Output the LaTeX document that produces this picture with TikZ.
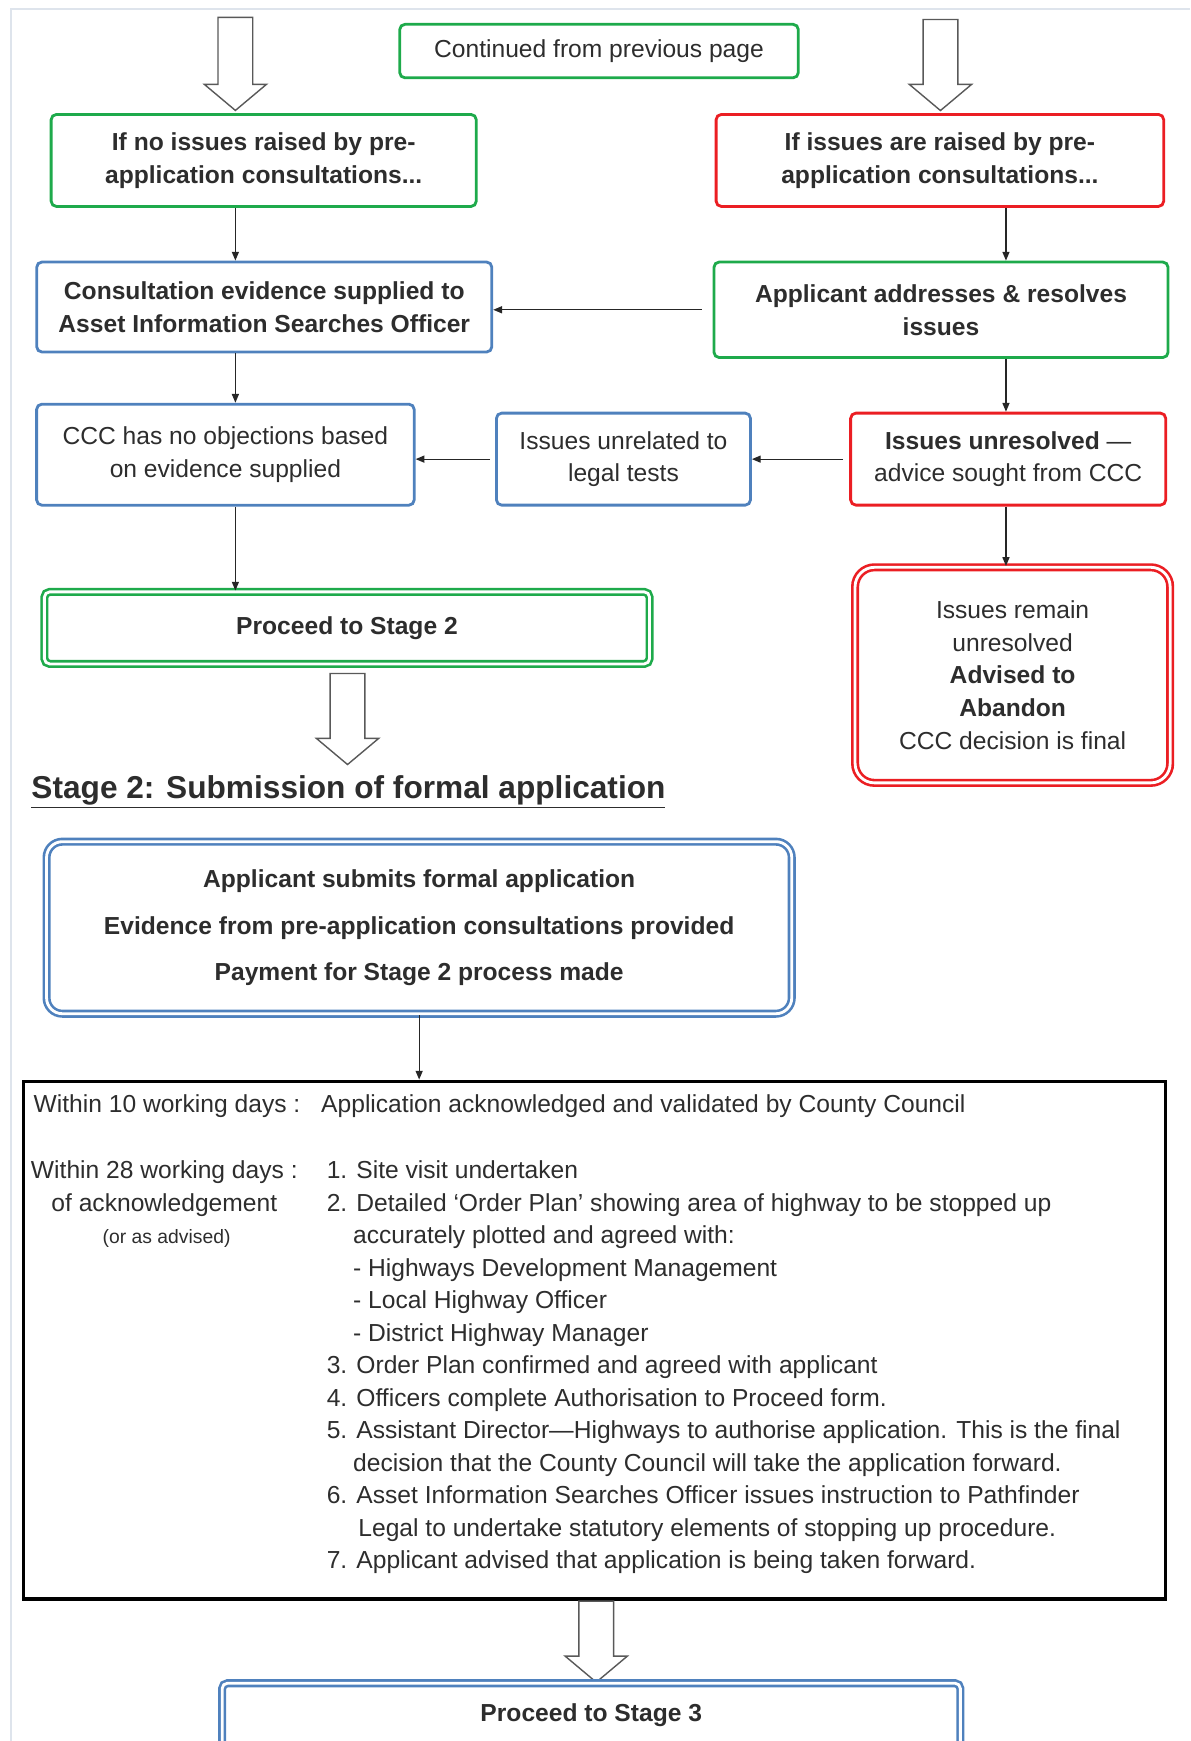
\documentclass[tikz,border=0pt]{standalone}
\usepackage{fontspec}
\setmainfont{Liberation Sans}
\usepackage{xcolor}
\usepackage{tikz}
\usetikzlibrary{arrows.meta,shapes.arrows}
\definecolor{nicegreen}{RGB}{30,170,75}
\definecolor{niceblue}{RGB}{79,129,189}
\definecolor{nicered}{RGB}{235,30,35}
\definecolor{txtgray}{RGB}{45,45,45}
\definecolor{framegray}{RGB}{222,228,236}

\tikzset{
  box/.style = {draw, line width=1.6pt, rounded corners=3pt, align=center, inner sep=0pt,
                text=txtgray, font=\fontsize{14}{18.7}\selectfont},
  gbox/.style = {box, draw=nicegreen},
  bbox/.style = {box, draw=niceblue},
  rbox/.style = {box, draw=nicered},
  dblbox/.style = {box, line width=1.5pt, double=white, double distance=1.6pt},
  arr/.style = {-{Triangle[length=5pt,width=4pt]}, line width=0.7pt, black!85},
  hollow/.style = {single arrow, draw=gray!70!black, fill=white, line width=0.8pt, rotate=-90,
                   inner xsep=0pt, inner ysep=0.333cm, single arrow head extend=0.275cm,
                   single arrow tip angle=100},
  plain/.style = {inner sep=0pt, text=txtgray, font=\fontsize{14}{18.5}\selectfont}
}

\begin{document}
\begin{tikzpicture}[x=0.0222cm, y=-0.0222cm]
			\useasboundingbox (0,0) rectangle (1072,1568);
			\draw[framegray, line width=1pt] (1072,8) -- (10,8) -- (10,1568);
			\coordinate (lcol) at (212,0);
			\coordinate (rcol) at (906,0);
			% top row
			\node (fromprev) at (539.5,46) [gbox, minimum width=7.97cm, minimum height=1.07cm] {Continued from previous page};
			\node (hollowl) at (212,51) [hollow, minimum height=1.86cm] {};
			\node (hollowr) at (847,52) [hollow, minimum height=1.82cm] {};
			\node (noissues) at (237.5,144.5) [gbox, minimum width=8.50cm, minimum height=1.84cm] {\textbf{If no issues raised by pre-}\\\textbf{application consultations...}};
			\node (issues) at (846.5,144.5) [rbox, minimum width=8.95cm, minimum height=1.84cm] {\textbf{If issues are raised by pre-}\\\textbf{application consultations...}};
			\node (evidence) at (238,276.5) [bbox, minimum width=9.10cm, minimum height=1.80cm] {\textbf{Consultation evidence supplied to}\\\textbf{Asset Information Searches Officer}};
			\node (resolves) at (847.5,279) [gbox, minimum width=9.08cm, minimum height=1.91cm] {\textbf{Applicant addresses \& resolves}\\\textbf{issues}};
			\node (noobj) at (203,409.5) [bbox, minimum width=7.55cm, minimum height=2.02cm] {CCC has no objections based\\on evidence supplied};
			\node (unrelated) at (561.5,413.5) [bbox, minimum width=5.08cm, minimum height=1.84cm] {Issues unrelated to\\legal tests};
			\node (unresolved) at (908,413.5) [rbox, minimum width=6.30cm, minimum height=1.84cm] {\textbf{Issues unresolved} —\\advice sought from CCC};
			\node (stagetwo) at (312.5,565.5) [dblbox, draw=nicegreen, minimum width=12.10cm, minimum height=1.44cm] {\textbf{Proceed to Stage 2}};
			\node (abandon) at (912,608) [dblbox, draw=nicered, rounded corners=11pt, minimum width=6.30cm, minimum height=4.31cm] {Issues remain\\unresolved\\\textbf{Advised to}\\\textbf{Abandon}\\CCC decision is final};
			\node (hollowst) at (313,641) [hollow, minimum height=1.82cm] {};
			\node (stagehead) at (28,713) [anchor=west, inner sep=0pt, text=txtgray, font=\bfseries\fontsize{18}{22}\selectfont] {\underline{Stage 2: Submission of formal application}};
			% stage 2
			\node (submit) at (377.5,835.5) [dblbox, draw=niceblue, rounded corners=9pt, minimum width=14.90cm, minimum height=3.44cm] {\textbf{Applicant submits formal application}\\[7.5pt]\textbf{Evidence from pre-application consultations provided}\\[7.5pt]\textbf{Payment for Stage 2 process made}};
			\node (timeline) at (535.5,1207) [draw, line width=2pt, minimum width=22.84cm, minimum height=10.35cm] {};
			\node (tenday) at (30,1002) [plain, anchor=base west] {Within 10 working days :};
			\node (acknow) at (289,1002) [plain, anchor=base west] {Application acknowledged and validated by County Council};
			\node (twentyeight) at (148,1045) [plain, anchor=north, align=center] {Within 28 working days :\\of acknowledgement};
			\node (advised) at (150,1120) [plain, anchor=base, font=\fontsize{11}{13}\selectfont] {(or as advised)};
			\node (steps) at (294,1045) [plain, anchor=north west, align=left] {1. Site visit undertaken\\
				2. Detailed `Order Plan' showing area of highway to be stopped up\\
				\hspace*{15pt}accurately plotted and agreed with:\\
				\hspace*{15pt}- Highways Development Management\\
				\hspace*{15pt}- Local Highway Officer\\
				\hspace*{15pt}- District Highway Manager\\
				3. Order Plan confirmed and agreed with applicant\\
				4. Officers complete Authorisation to Proceed form.\\
				5. Assistant Director—Highways to authorise application. This is the final\\
				\hspace*{15pt}decision that the County Council will take the application forward.\\
				6. Asset Information Searches Officer issues instruction to Pathfinder\\
				\hspace*{18pt}Legal to undertake statutory elements of stopping up procedure.\\
				7. Applicant advised that application is being taken forward.};
			\node (hollowk) at (537,1472) [hollow, minimum height=1.62cm] {};
			\node (stagethree) at (532.5,1545) [dblbox, draw=niceblue, minimum width=14.76cm, minimum height=1.29cm] {\textbf{Proceed to Stage 3}};
			% connectors
			\draw[arr] (noissues.south -| lcol) -- (evidence.north -| lcol);
			\draw[arr] (issues.south -| rcol) -- (resolves.north -| rcol);
			\draw[arr, shorten <=0.22cm] (resolves.west) -- (resolves.west -| evidence.east);
			\draw[arr] (evidence.south -| lcol) -- (noobj.north -| lcol);
			\draw[arr] (resolves.south -| rcol) -- (unresolved.north -| rcol);
			\draw[arr, shorten <=0.12cm] (unresolved.west) -- (unresolved.west -| unrelated.east);
			\draw[arr, shorten <=0.1cm] (unrelated.west) -- (unrelated.west -| noobj.east);
			\draw[arr] (noobj.south -| lcol) -- (stagetwo.north -| lcol);
			\draw[arr] (unresolved.south -| rcol) -- (abandon.north -| rcol);
			\draw[arr] (submit.south) -- (timeline.north -| submit.south);
\end{tikzpicture}
\end{document}
